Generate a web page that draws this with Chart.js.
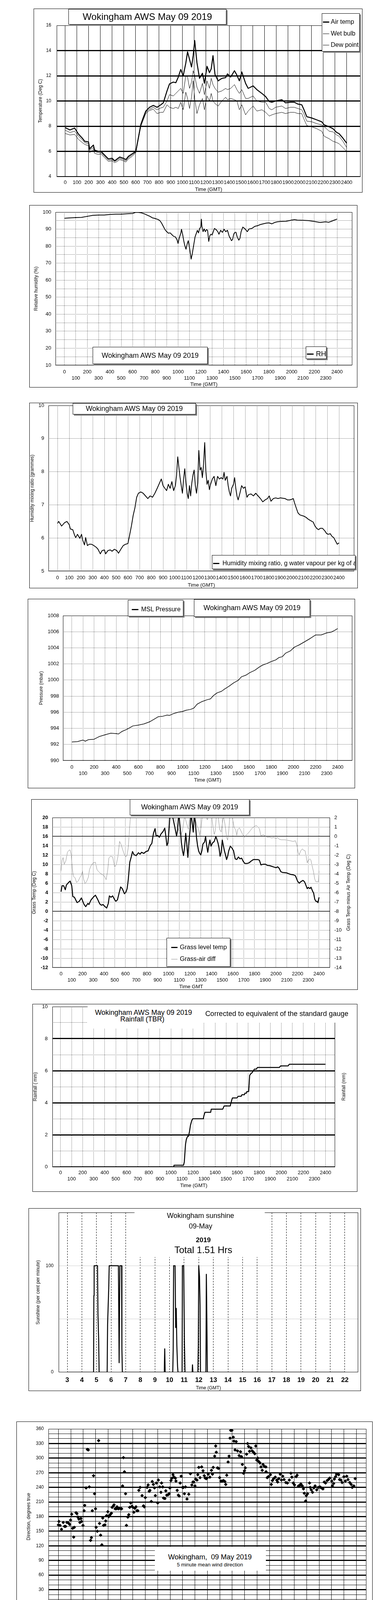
<!DOCTYPE html>
<html>
<head>
<meta charset="utf-8">
<script src="https://cdn.jsdelivr.net/npm/chart.js@4.4.1/dist/chart.umd.min.js"></script>
<style>
  body { margin: 0; background: #fff; font-family: "Liberation Sans", Arial, sans-serif; color: #000; }
  #page { position: relative; width: 1000px; height: 5000px; overflow: hidden; }
  .frame { position: absolute; border: 1px solid #000; box-sizing: border-box; }
  .frame canvas { position: absolute; left: -1px; top: -1px; }
  .box { position: absolute; background: #fff; border: 1px solid #000; box-shadow: 3px 3px 0 #7f7f7f; box-sizing: border-box; overflow: hidden; z-index: 5; }
  .cover { position: absolute; background: #fff; z-index: 5; }
  .tx { position: absolute; white-space: pre; z-index: 6; }
  .ctr { position: absolute; white-space: pre; text-align: center; z-index: 6; }
  .ln { position: absolute; background: #000; }
  .dia { position: absolute; width: 7px; height: 7px; background: #c8c8c8; border: 1px solid #333; transform: rotate(45deg); }
</style>
</head>
<body>
<div id="page">
  <!-- 1: temperatures -->
  <div class="box" style="left:175px;top:23px;width:404px;height:40px;font-size:24px;line-height:38px;text-align:center">Wokingham AWS May 09 2019</div>
  <div class="box" style="left:823px;top:34px;width:97px;height:98px">
    <div class="ln" style="left:2px;top:20px;width:16px;height:3px"></div>
    <div class="tx" style="left:22px;top:11px;font-size:16px;line-height:20px">Air temp</div>
    <div class="ln" style="left:2px;top:51px;width:16px;height:1px"></div>
    <div class="tx" style="left:22px;top:41px;font-size:16px;line-height:20px">Wet bulb</div>
    <div class="ln" style="left:2px;top:80px;width:16px;height:1px"></div>
    <div class="tx" style="left:22px;top:70px;font-size:16px;line-height:20px">Dew point</div>
  </div>

  <!-- 2: relative humidity -->
  <div class="box" style="left:237px;top:888px;width:294px;height:44px;font-size:18px;line-height:42px;text-align:center">Wokingham AWS May 09 2019</div>
  <div class="box" style="left:782px;top:887px;width:53px;height:32px">
    <div class="ln" style="left:2px;top:17px;width:17px;height:3px"></div>
    <div class="tx" style="left:25px;top:7px;font-size:18px;line-height:22px">RH</div>
  </div>

  <!-- 3: mixing ratio -->
  <div class="box" style="left:186px;top:1032px;width:315px;height:29px;font-size:18px;line-height:27px;text-align:center">Wokingham AWS May 09 2019</div>
  <div class="box" style="left:542px;top:1421px;width:367px;height:36px">
    <div class="ln" style="left:2px;top:19px;width:16px;height:3px"></div>
    <div class="tx" style="left:26px;top:9px;font-size:16px;line-height:22px">Humidity mixing ratio, g water vapour per kg of air</div>
  </div>

  <!-- 4: pressure -->
  <div class="box" style="left:327px;top:1536px;width:142px;height:42px">
    <div class="ln" style="left:9px;top:22px;width:17px;height:3px"></div>
    <div class="tx" style="left:33px;top:12px;font-size:16px;line-height:22px">MSL Pressure</div>
  </div>
  <div class="box" style="left:496px;top:1534px;width:297px;height:45px;font-size:18px;line-height:43px;text-align:center">Wokingham AWS May 09 2019</div>

  <!-- 5: grass temperature -->
  <div class="box" style="left:332px;top:2046px;width:306px;height:41px;font-size:18px;line-height:39px;text-align:center">Wokingham AWS May 09 2019</div>
  <div class="box" style="left:426px;top:2401px;width:163px;height:74px">
    <div class="ln" style="left:11px;top:22px;width:16px;height:3px"></div>
    <div class="tx" style="left:33px;top:12px;font-size:16px;line-height:22px">Grass level temp</div>
    <div class="ln" style="left:11px;top:53px;width:16px;height:1px;background:#8c8c8c"></div>
    <div class="tx" style="left:33px;top:42px;font-size:16px;line-height:22px">Grass-air diff</div>
  </div>

  <!-- 6: rainfall -->
  <div class="cover" style="left:224px;top:2576px;width:284px;height:56px">
    <div class="ctr" style="left:0;width:286px;top:6px;font-size:18px;line-height:20px">Wokingham AWS May 09 2019</div>
    <div class="ctr" style="left:0;width:280px;top:23px;font-size:18px;line-height:20px">Rainfall (TBR)</div>
  </div>
  <div class="cover" style="left:508px;top:2576px;width:351px;height:42px">
    <div class="ctr" style="left:0;width:400px;top:8px;font-size:18px;line-height:22px">Corrected to equivalent of the standard gauge</div>
  </div>

  <!-- 7: sunshine -->
  <div class="cover" style="left:344px;top:3103px;width:333px;height:115px">
    <div class="ctr" style="left:0;width:338px;top:-1px;font-size:18px;line-height:20px">Wokingham sunshine</div>
    <div class="ctr" style="left:0;width:338px;top:26px;font-size:18px;line-height:20px">09-May</div>
    <div class="ctr" style="left:0;width:352px;top:62px;font-size:17px;line-height:20px;font-weight:bold">2019</div>
    <div class="ctr" style="left:0;width:352px;top:83px;font-size:24px;line-height:28px">Total 1.51 Hrs</div>
  </div>

  <!-- 8: wind direction -->
  <div class="cover" style="left:396px;top:3960px;width:284px;height:61px">
    <div class="ctr" style="left:0;width:282px;top:15px;font-size:18px;line-height:22px">Wokingham,  09 May 2019</div>
    <div class="ctr" style="left:0;width:282px;top:38px;font-size:13px;line-height:16px">5 minute mean wind direction</div>
  </div>

  <!-- 9: wind speed -->
  <div class="ctr" style="left:115px;width:300px;top:4196px;font-size:18px;line-height:24px">Wokingham,  09 May 2019</div>
  <div class="ctr" style="left:422px;width:300px;top:4191px;font-size:13px;line-height:16px">Wind speed, 10 min mean / max gust</div>
  <div class="ctr" style="left:422px;width:300px;top:4209px;font-size:13px;line-height:16px">Speeds below 4 kt shown at x10 scale</div>
  <div class="box" style="left:725px;top:4193px;width:219px;height:25px">
    <div class="ln" style="left:31px;top:12px;width:11px;height:3px"></div>
    <div class="tx" style="left:50px;top:5px;font-size:11px;line-height:14px">Speed x 1</div>
    <div class="dia" style="left:118px;top:8px"></div>
    <div class="tx" style="left:136px;top:5px;font-size:11px;line-height:14px">Speed / 10</div>
  </div>
</div>

<script>
// ---------- tick values / labels ----------
const hhmmTicks = [0, 100, 200, 300, 400, 500, 600, 700, 800, 900, 1000, 1100, 1200,
  1300, 1400, 1500, 1600, 1700, 1800, 1900, 2000, 2100, 2200, 2300, 2400];
const hourTicks = [0, 1, 2, 3, 4, 5, 6, 7, 8, 9, 10, 11, 12, 13, 14, 15, 16, 17, 18, 19, 20, 21, 22, 23, 24];
const sunHourTicks = [3, 4, 5, 6, 7, 8, 9, 10, 11, 12, 13, 14, 15, 16, 17, 18, 19, 20, 21, 22];
const clockLabels = ['00:00', '01:00', '02:00', '03:00', '04:00', '05:00', '06:00', '07:00', '08:00',
  '09:00', '10:00', '11:00', '12:00', '13:00', '14:00', '15:00', '16:00', '17:00', '18:00',
  '19:00', '20:00', '21:00', '22:00', '23:00', ''];
const tempTicks = [4, 6, 8, 10, 12, 14, 16];
const rhTicks = [10, 15, 20, 25, 30, 35, 40, 45, 50, 55, 60, 65, 70, 75, 80, 85, 90, 95, 100];
const mixTicks = [5, 6, 7, 8, 9, 10];
const pressTicks = [990, 992, 994, 996, 998, 1000, 1002, 1004, 1006, 1008];
const grassTicks = [-12, -10, -8, -6, -4, -2, 0, 2, 4, 6, 8, 10, 12, 14, 16, 18, 20];
const diffTicks = [-14, -13, -12, -11, -10, -9, -8, -7, -6, -5, -4, -3, -2, -1, 0, 1, 2];
const rainTicks = [0, 1, 2, 3, 4, 5, 6, 7, 8, 9, 10];
const sunTicks = [0, 50, 100];
const dirTicks = [0, 10, 20, 30, 40, 50, 60, 70, 80, 90, 100, 110, 120, 130, 140, 150, 160, 170, 180,
  190, 200, 210, 220, 230, 240, 250, 260, 270, 280, 290, 300, 310, 320, 330, 340, 350, 360];
const speedTicks = [0, 5, 10, 15, 20, 25, 30, 35, 40, 45, 50];

// ---------- 1: temperatures (deg C) ----------
const tempTimes = [0, 40, 80, 113, 145, 166, 198, 208, 240, 250,
  283, 304, 336, 368, 400, 421, 443, 464, 496, 517,
  538, 570, 602, 623, 645, 666, 687, 719, 751, 783,
  815, 836, 868, 889, 921, 943, 964, 985, 1006, 1028,
  1043, 1060, 1077, 1091, 1104, 1123, 1145, 1170, 1187, 1209,
  1230, 1245, 1260, 1277, 1304, 1336, 1368, 1383, 1411, 1443,
  1464, 1485, 1506, 1538, 1560, 1602, 1634, 1677, 1709, 1740,
  1762, 1794, 1847, 1879, 1921, 1953, 1985, 2017, 2034, 2060,
  2102, 2145, 2187, 2209, 2251, 2283, 2315, 2336, 2368, 2400];
const airTemp = [7.88, 7.7, 7.85, 7.37, 7.05, 6.8, 6.75, 6.2, 6.5, 6.1,
  6.0, 6.0, 5.7, 5.4, 5.45, 5.25, 5.4, 5.55, 5.45, 5.35,
  5.6, 5.8, 6.0, 7.05, 8.15, 8.7, 9.2, 9.5, 9.65, 9.5,
  9.7, 9.85, 10.8, 11.35, 11.5, 11.45, 11.9, 12.5, 12.0, 13.0,
  13.9, 13.3, 12.7, 13.6, 14.8, 13.05, 11.8, 12.2, 11.4, 12.75,
  12.25, 12.55, 13.6, 12.1, 11.6, 11.8, 11.85, 12.15, 11.9, 12.4,
  12.05, 11.6, 12.3, 11.4, 11.0, 11.2, 10.9, 10.6, 10.35, 9.95,
  9.9, 10.0, 10.1, 9.85, 9.9, 9.9, 9.75, 9.7, 9.35, 8.75,
  8.65, 8.5, 8.35, 8.1, 7.95, 7.8, 7.5, 7.4, 7.05, 6.65];
const wetBulb = [7.68, 7.5, 7.6, 7.2, 6.9, 6.7, 6.6, 6.1, 6.3, 6.0,
  5.9, 5.9, 5.6, 5.3, 5.35, 5.2, 5.3, 5.45, 5.35, 5.25,
  5.5, 5.7, 5.95, 7.0, 8.1, 8.6, 9.1, 9.35, 9.5, 9.3,
  9.45, 9.5, 10.0, 10.5, 10.4, 10.6, 10.8, 11.0, 10.6, 12.0,
  11.9, 11.0, 11.5, 12.4, 12.0, 11.1, 10.6, 11.4, 10.5, 11.6,
  11.0, 11.8, 11.3, 11.0, 10.7, 10.8, 11.0, 10.9, 11.0, 11.3,
  10.9, 10.6, 10.9, 10.2, 10.2, 10.4, 10.0, 9.9, 9.9, 9.4,
  9.3, 9.5, 9.6, 9.4, 9.5, 9.5, 9.4, 9.3, 9.0, 8.4,
  8.35, 8.2, 8.1, 7.95, 7.6, 7.55, 7.3, 7.2, 6.8, 6.3];
const dewPoint = [7.42, 7.3, 7.35, 6.95, 6.7, 6.55, 6.45, 5.9, 6.15, 5.85,
  5.75, 5.8, 5.5, 5.2, 5.25, 5.1, 5.2, 5.35, 5.25, 5.15,
  5.4, 5.6, 5.9, 6.95, 8.0, 8.5, 9.0, 9.25, 9.35, 9.0,
  9.1, 9.1, 9.7, 9.5, 9.4, 9.5, 9.4, 9.9, 9.3, 10.7,
  10.2, 9.4, 10.3, 11.6, 10.2, 9.0, 9.7, 10.2, 9.3, 10.4,
  10.0, 10.6, 10.0, 9.8, 9.6, 10.0, 10.3, 10.1, 10.2, 10.1,
  10.0, 9.3, 9.7, 8.9, 9.2, 9.6, 9.2, 9.3, 9.1, 8.8,
  8.9, 9.0, 9.1, 9.0, 9.1, 9.1, 9.0, 9.0, 8.6, 8.05,
  7.95, 7.8, 7.6, 7.2, 7.0, 6.8, 6.7, 6.6, 6.3, 6.0];

// ---------- 2: relative humidity (%) ----------
const rhTimes = [0, 50, 100, 150, 200, 250, 300, 350, 400, 450,
  500, 550, 600, 625, 650, 675, 700, 725, 750, 775,
  800, 825, 840, 855, 870, 885, 900, 915, 930, 945,
  960, 975, 990, 1000, 1010, 1025, 1030, 1040, 1050, 1060,
  1070, 1080, 1090, 1100, 1110, 1115, 1125, 1140, 1150, 1170,
  1180, 1190, 1200, 1205, 1210, 1220, 1230, 1240, 1250, 1260,
  1270, 1280, 1290, 1300, 1310, 1320, 1335, 1350, 1360, 1375,
  1390, 1405, 1420, 1435, 1450, 1460, 1470, 1480, 1490, 1500,
  1510, 1520, 1535, 1545, 1555, 1570, 1585, 1595, 1610, 1625,
  1650, 1675, 1700, 1725, 1750, 1775, 1800, 1825, 1850, 1875,
  1900, 1950, 2000, 2025, 2050, 2100, 2150, 2200, 2250, 2300,
  2325, 2350, 2375, 2400];
const rhValues = [96.4, 96.6, 96.8, 96.9, 97.5, 98.1, 98.3, 98.3, 98.6, 98.8,
  98.8, 99.0, 99.2, 99.8, 99.8, 99.6, 99.1, 98.3, 97.6, 96.6,
  96.2, 95.6, 95.0, 93.5, 91.6, 89.7, 88.5, 87.6, 87.8, 86.8,
  85.8, 85.5, 83.9, 81.6, 84.7, 87.8, 89.9, 87.0, 83.2, 80.1,
  78.2, 81.2, 83.2, 79.4, 74.7, 72.4, 75.5, 81.6, 85.5, 89.3,
  87.8, 90.4, 91.2, 95.8, 91.6, 88.5, 90.1, 88.5, 89.7, 89.3,
  82.8, 86.2, 87.0, 86.6, 88.5, 90.4, 89.7, 88.5, 87.0, 89.3,
  88.1, 89.9, 88.5, 89.3, 85.8, 84.7, 83.2, 83.9, 87.0, 88.1,
  88.1, 85.5, 83.5, 84.7, 88.5, 91.2, 90.4, 89.7, 88.5, 90.1,
  90.4, 91.6, 92.0, 92.7, 93.1, 93.5, 93.7, 93.1, 93.9, 94.3,
  94.5, 94.6, 95.3, 95.6, 95.3, 95.2, 95.0, 94.5, 93.9, 94.3,
  94.0, 94.6, 95.3, 95.9];

// ---------- 3: humidity mixing ratio (g/kg) ----------
const mixTimes = [0, 10, 35, 60, 80, 100, 110, 130, 145, 155,
  170, 190, 205, 215, 230, 240, 255, 270, 290, 310,
  330, 345, 365, 380, 400, 410, 430, 450, 465, 485,
  505, 520, 540, 560, 580, 600, 615, 630, 645, 660,
  675, 690, 710, 730, 750, 770, 790, 810, 830, 850,
  870, 885, 900, 915, 930, 945, 960, 975, 990, 1005,
  1015, 1025, 1035, 1045, 1055, 1065, 1075, 1085, 1095, 1105,
  1115, 1125, 1135, 1145, 1155, 1165, 1175, 1185, 1195, 1205,
  1215, 1225, 1235, 1245, 1255, 1265, 1275, 1285, 1295, 1305,
  1320, 1335, 1350, 1365, 1380, 1395, 1410, 1420, 1430, 1445,
  1455, 1465, 1475, 1485, 1500, 1510, 1520, 1530, 1540, 1555,
  1570, 1585, 1600, 1615, 1630, 1650, 1670, 1690, 1710, 1730,
  1750, 1770, 1790, 1805, 1820, 1840, 1860, 1880, 1900, 1920,
  1940, 1960, 1980, 2000, 2010, 2020, 2035, 2050, 2065, 2080,
  2100, 2120, 2140, 2160, 2180, 2195, 2210, 2225, 2240, 2260,
  2280, 2295, 2310, 2325, 2340, 2355, 2370, 2385, 2400];
const mixValues = [6.44, 6.50, 6.36, 6.46, 6.50, 6.40, 6.27, 6.25, 6.09, 6.01,
  6.11, 5.99, 6.11, 5.93, 5.79, 6.01, 5.77, 5.81, 5.81, 5.77,
  5.72, 5.66, 5.52, 5.62, 5.64, 5.52, 5.62, 5.64, 5.60, 5.66,
  5.62, 5.54, 5.66, 5.77, 5.81, 5.83, 6.09, 6.36, 6.68, 6.91,
  7.23, 7.35, 7.39, 7.35, 7.27, 7.19, 7.27, 7.23, 7.35, 7.50,
  7.66, 7.78, 7.58, 7.50, 7.43, 7.62, 7.50, 7.70, 7.43, 7.58,
  7.90, 8.45, 8.13, 7.82, 7.58, 7.35, 7.78, 8.09, 7.66, 7.35,
  7.19, 7.58, 7.27, 7.66, 7.90, 8.05, 7.58, 7.35, 7.66, 8.64,
  8.05, 8.13, 7.82, 8.21, 8.88, 8.01, 7.62, 7.74, 7.46, 7.62,
  7.78, 7.86, 7.58, 7.86, 7.78, 7.82, 7.78, 7.98, 7.74, 7.86,
  7.58, 7.39, 7.27, 7.50, 7.62, 7.82, 7.50, 7.27, 7.15, 7.35,
  7.58, 7.50, 7.54, 7.23, 7.31, 7.33, 7.27, 7.35, 7.27, 7.19,
  7.09, 7.15, 7.19, 7.27, 7.11, 7.19, 7.21, 7.19, 7.21, 7.20,
  7.19, 7.15, 7.15, 7.17, 7.19, 7.07, 6.91, 6.76, 6.70, 6.68,
  6.66, 6.62, 6.56, 6.52, 6.48, 6.36, 6.29, 6.25, 6.29, 6.29,
  6.21, 6.13, 6.11, 6.13, 6.05, 6.01, 5.91, 5.81, 5.85];

// ---------- 4: MSL pressure (mbar) ----------
const pressTimes = [0, 50, 100, 120, 150, 200, 250, 300, 350, 400,
  420, 450, 500, 550, 600, 650, 700, 750, 780, 820,
  860, 880, 920, 960, 1000, 1030, 1070, 1100, 1130, 1170,
  1220, 1250, 1280, 1310, 1350, 1380, 1420, 1460, 1500, 1530,
  1570, 1610, 1650, 1690, 1720, 1760, 1800, 1840, 1870, 1900,
  1930, 1970, 2010, 2050, 2100, 2150, 2200, 2250, 2300, 2340,
  2370, 2400];
const pressValues = [992.3, 992.35, 992.55, 992.4, 992.6, 992.65, 993.0, 993.2, 993.4, 993.35,
  993.3, 993.6, 993.9, 994.3, 994.4, 994.55, 994.8, 995.2, 995.45, 995.5,
  995.65, 995.6, 995.85, 996.0, 996.1, 996.25, 996.35, 996.5, 997.0, 997.3,
  997.55, 997.65, 998.1, 998.4, 998.6, 998.9, 999.25, 999.65, 999.95, 1000.4,
  1000.6, 1000.95, 1001.2, 1001.6, 1001.85, 1002.05, 1002.3, 1002.5, 1002.8, 1002.9,
  1003.35, 1003.6, 1004.1, 1004.35, 1004.75, 1005.15, 1005.6, 1005.6, 1005.85, 1005.95,
  1006.15, 1006.4];

// ---------- 5: grass temperature (left) and grass minus air (right) ----------
const grassTimes = [0, 10, 25, 40, 50, 70, 85, 100, 110, 125,
  140, 150, 170, 190, 200, 215, 230, 250, 260, 280,
  300, 320, 340, 360, 375, 390, 410, 425, 440, 450,
  465, 480, 500, 510, 525, 540, 555, 570, 590, 605,
  615, 625, 640, 655, 665, 680, 700, 720, 735, 750,
  770, 790, 810, 830, 845, 860, 875, 885, 900, 915,
  930, 950, 965, 975, 985, 995, 1005, 1015, 1030, 1045,
  1060, 1075, 1085, 1095, 1110, 1120, 1130, 1140, 1150, 1160,
  1170, 1180, 1190, 1200, 1210, 1220, 1230, 1240, 1250, 1260,
  1270, 1280, 1290, 1300, 1310, 1320, 1335, 1345, 1355, 1365,
  1375, 1385, 1395, 1410, 1425, 1440, 1450, 1460, 1470, 1480,
  1490, 1500, 1510, 1520, 1530, 1540, 1550, 1560, 1575, 1590,
  1605, 1620, 1635, 1650, 1665, 1680, 1695, 1710, 1730, 1750,
  1770, 1790, 1810, 1830, 1845, 1860, 1880, 1900, 1920, 1940,
  1960, 1980, 2000, 2015, 2030, 2045, 2060, 2080, 2100, 2120,
  2140, 2160, 2180, 2190, 2200, 2215, 2230, 2250, 2265, 2280,
  2290, 2300, 2315, 2325, 2340, 2350, 2360, 2370, 2380, 2390,
  2400];
const grassTemp = [4.16, 5.45, 5.45, 4.6, 5.6, 6.15, 6.45, 5.45, 3.15, 3.0,
  2.3, 1.85, 2.15, 2.85, 2.3, 1.45, 1.0, 1.7, 1.45, 2.45,
  3.0, 3.45, 2.6, 1.6, 1.3, 1.45, 1.0, 0.7, 1.7, 3.3,
  3.0, 3.3, 2.45, 2.15, 2.45, 3.85, 5.2, 4.85, 3.75, 4.15,
  4.85, 6.6, 10.5, 11.75, 12.75, 12.05, 11.9, 12.5, 12.2, 12.6,
  12.35, 12.75, 12.9, 14.05, 14.5, 16.65, 17.65, 16.05, 16.2, 15.8,
  16.5, 17.05, 17.75, 16.05, 14.05, 14.6, 17.5, 21, 21, 19.5,
  17.8, 16.05, 17.5, 21, 17.5, 14.6, 12.9, 11.9, 13.8, 16.65,
  14.35, 11.5, 14.9, 17.2, 21, 18.9, 16.9, 20.5, 18.9, 15.8,
  14.05, 12.9, 12.35, 12.05, 12.9, 14.35, 14.8, 15.95, 14.05, 12.6,
  14.05, 15.2, 13.9, 14.6, 14.9, 15.95, 15.35, 14.6, 13.5, 11.75,
  12.6, 15.2, 14.05, 12.9, 12.05, 11.05, 11.75, 12.9, 13.9, 13.5,
  12.9, 11.2, 11.05, 11.6, 11.2, 11.35, 10.65, 10.2, 10.2, 10.35,
  10.75, 11.05, 11.05, 11.05, 10.9, 9.9, 10.05, 10.05, 9.8, 9.75,
  9.6, 9.45, 9.3, 9.5, 9.15, 8.45, 8.3, 8.25, 8.2, 8.0,
  7.85, 7.8, 7.6, 7.05, 6.45, 6.0, 6.3, 6.6, 6.3, 5.45,
  4.85, 5.1, 4.85, 5.15, 4.3, 3.85, 2.6, 2.15, 2.15, 1.85,
  3.0];
const diffTimes = [0, 10, 20, 30, 45, 60, 75, 85, 95, 105,
  115, 130, 145, 160, 175, 190, 200, 210, 225, 240,
  255, 265, 280, 300, 320, 335, 350, 370, 390, 405,
  420, 435, 445, 460, 480, 500, 515, 530, 545, 560,
  575, 590, 605, 615, 625, 635, 645, 700, 800, 900,
  960, 1000, 1010, 1050, 1100, 1115, 1130, 1150, 1170, 1185,
  1200, 1240, 1260, 1280, 1290, 1300, 1315, 1345, 1360, 1375,
  1400, 1410, 1425, 1435, 1445, 1460, 1475, 1490, 1500, 1510,
  1525, 1540, 1550, 1560, 1570, 1590, 1600, 1610, 1625, 1635,
  1645, 1660, 1675, 1690, 1705, 1720, 1740, 1760, 1780, 1800,
  1815, 1830, 1845, 1860, 1880, 1900, 1920, 1940, 1960, 1980,
  2000, 2015, 2030, 2050, 2080, 2100, 2130, 2160, 2180, 2195,
  2205, 2215, 2230, 2245, 2255, 2270, 2280, 2290, 2300, 2315,
  2325, 2335, 2350, 2360, 2370, 2385, 2395, 2400];
const grassAirDiff = [-3.7, -2.55, -2.26, -2.98, -2.62, -1.69, -1.47, -1.47, -1.97, -3.41,
  -4.27, -4.41, -4.92, -4.77, -4.41, -4.13, -3.7, -4.56, -5.06, -4.77,
  -4.34, -3.55, -3.12, -2.83, -2.76, -3.55, -3.77, -3.98, -4.13, -4.27,
  -4.63, -3.55, -2.33, -2.12, -2.19, -3.27, -2.98, -2.12, -0.54, -0.9,
  -1.47, -1.97, -2.19, -1.97, -1.26, 0.32, 2.0, 3, 3, 3,
  3, 2.4, 1.9, 2.2, 0.46, 0.1, 0.6, 2.2, 1.3, 0.75,
  2.2, 2.5, 1.3, 0.75, 0.1, 0.75, 2.2, 2.4, 1.75, 2.2,
  2.4, 1.3, 0.2, 0.6, 2.2, 2.4, 0.75, 0.46, 1.3, 2.2,
  1.3, -0.11, -0.4, 0.54, 2.1, 2.2, 1.6, 0.97, 0.68, 0.1,
  0.75, 0.9, 0.54, 0.2, -0.11, 0.1, 0.32, 0.6, 0.9, 1.04,
  1.18, 1.0, 0.82, 0.03, 0.18, 0.03, -0.11, -0.08, -0.18, -0.11,
  -0.25, -0.11, -0.32, -0.37, -0.37, -0.4, -0.47, -0.54, -0.47, -0.97,
  -1.69, -1.97, -1.54, -1.33, -1.47, -1.54, -2.12, -2.83, -2.55, -2.4,
  -2.55, -3.12, -3.84, -4.56, -4.84, -4.84, -4.84, -3.7];

// ---------- 6: accumulated rainfall (mm) ----------
const rainTimes = [0, 1026, 1028, 1114, 1121, 1128, 1132, 1139, 1150, 1159,
  1168, 1177, 1189, 1198, 1293, 1299, 1308, 1360, 1365, 1469,
  1482, 1537, 1548, 1557, 1598, 1609, 1636, 1643, 1666, 1670,
  1684, 1688, 1704, 1713, 1722, 1738, 1756, 1774, 1783, 1982,
  1993, 2061, 2072, 2400];
const rainTotal = [0, 0, 0.1, 0.1, 0.3, 1.0, 1.4, 1.7, 1.9, 1.9,
  2.2, 2.6, 2.9, 3.0, 3.0, 3.2, 3.4, 3.4, 3.6, 3.6,
  3.8, 3.8, 4.1, 4.3, 4.3, 4.4, 4.4, 4.5, 4.5, 4.6,
  4.6, 4.7, 4.7, 5.7, 5.8, 5.9, 6.1, 6.1, 6.2, 6.2,
  6.3, 6.3, 6.4, 6.4];

// ---------- 7: sunshine (per cent per minute) ----------
const sunHours = [3, 4.80, 4.82, 4.84, 5.07, 5.10, 5.15, 5.18, 5.73, 5.76,
  5.84, 5.87, 6.50, 6.55, 6.60, 6.72, 6.74, 6.77, 9.64, 9.67,
  9.70, 10.22, 10.25, 10.28, 10.38, 10.42, 10.46, 10.50, 10.55, 10.58,
  10.86, 10.88, 10.97, 11.02, 11.06, 11.55, 11.57, 11.60, 11.94, 11.97,
  12.00, 12.05, 12.09, 12.12, 12.49, 12.52, 12.55, 12.59, 22];
const sunValues = [0, 0, 72, 100, 100, 55, 30, 0, 0, 45,
  80, 100, 100, 9, 100, 100, 22, 0, 0, 22,
  0, 0, 21, 100, 100, 42, 60, 25, 5, 0,
  0, 100, 100, 27, 0, 0, 7, 0, 0, 25,
  100, 90, 63, 0, 0, 92, 55, 0, 0];

// ---------- 8: 5 minute mean wind direction (degrees) ----------
const dirHours = [0.00, 0.04, 0.13, 0.25, 0.39, 0.49, 0.58, 0.68, 0.81, 0.91,
  0.98, 1.07, 1.15, 1.23, 1.28, 1.42, 1.49, 1.57, 1.65, 1.73,
  1.81, 1.86, 1.98, 2.07, 2.12, 2.23, 2.33, 2.41, 2.49, 2.59,
  2.66, 2.73, 2.83, 2.91, 2.99, 3.04, 3.14, 3.24, 3.31, 3.40,
  3.50, 3.57, 3.64, 3.75, 3.81, 3.88, 3.98, 4.06, 4.12, 4.20,
  4.27, 4.33, 4.40, 4.48, 4.57, 4.66, 4.72, 4.82, 4.91, 5.03,
  5.09, 5.17, 5.24, 5.32, 5.41, 5.48, 5.59, 5.67, 5.74, 5.83,
  5.92, 6.01, 6.08, 6.16, 6.25, 6.32, 6.40, 6.48, 6.58, 6.74,
  6.85, 6.92, 7.00, 7.14, 7.23, 7.32, 7.37, 7.48, 7.56, 7.65,
  7.74, 7.81, 7.89, 8.00, 8.05, 8.16, 8.26, 8.31, 8.40, 8.47,
  8.58, 8.65, 8.73, 8.84, 8.92, 8.98, 9.07, 9.15, 9.23, 9.31,
  9.42, 9.47, 9.57, 9.66, 9.73, 9.81, 9.89, 10.00, 10.07, 10.15,
  10.24, 10.36, 10.50, 10.63, 10.75, 10.84, 10.89, 11.00, 11.05, 11.16,
  11.23, 11.31, 11.41, 11.54, 11.65, 11.75, 11.83, 11.91, 11.97, 12.07,
  12.20, 12.33, 12.41, 12.47, 12.59, 12.67, 12.72, 12.81, 12.91, 12.99,
  13.09, 13.20, 13.30, 13.41, 13.48, 13.56, 13.67, 13.75, 13.83, 13.88,
  13.98, 14.09, 14.14, 14.23, 14.32, 14.43, 14.56, 14.67, 14.75, 14.82,
  14.91, 14.99, 15.06, 15.16, 15.24, 15.32, 15.40, 15.51, 15.61, 15.72,
  15.82, 15.90, 15.98, 16.06, 16.14, 16.24, 16.32, 16.42, 16.48, 16.59,
  16.71, 16.73, 16.82, 16.92, 17.08, 17.15, 17.24, 17.34, 17.47, 17.59,
  17.66, 17.76, 17.87, 17.97, 18.07, 18.18, 18.32, 18.45, 18.60, 18.73,
  18.81, 18.92, 19.02, 19.15, 19.23, 19.34, 19.44, 19.53, 19.65, 19.74,
  19.81, 19.92, 19.97, 20.07, 20.23, 20.28, 20.37, 20.47, 20.58, 20.68,
  20.81, 20.93, 21.07, 21.18, 21.31, 21.42, 21.52, 21.65, 21.75, 21.86,
  22.02, 22.07, 22.17, 22.23, 22.33, 22.41, 22.58, 22.65, 22.76, 22.86,
  23.00, 23.12, 23.23, 23.33, 23.47, 23.59, 23.67, 23.80, 23.91];
const dirDegrees = [163, 170, 162, 154, 168, 160, 160, 168, 167, 164,
  173, 185, 156, 138, 158, 188, 186, 179, 175, 168,
  176, 170, 162, 192, 203, 239, 318, 317, 241, 131,
  137, 192, 264, 227, 196, 158, 150, 336, 166, 142,
  122, 177, 162, 163, 171, 182, 190, 180, 182, 185,
  187, 199, 201, 204, 196, 196, 200, 196, 197, 196,
  196, 243, 301, 272, 227, 162, 179, 184, 199, 208,
  201, 199, 189, 197, 200, 192, 192, 234, 240, 223,
  202, 200, 219, 240, 245, 232, 234, 211, 252, 246,
  239, 223, 249, 208, 255, 241, 230, 249, 241, 218,
  217, 233, 224, 225, 227, 239, 254, 259, 266, 261,
  259, 253, 234, 224, 222, 249, 263, 240, 240, 227,
  241, 216, 226, 268, 245, 251, 251, 243, 257, 255,
  266, 281, 260, 282, 274, 264, 259, 258, 259, 267,
  261, 275, 267, 281, 304, 325, 312, 280, 279, 260,
  253, 253, 254, 252, 246, 265, 292, 304, 341, 357,
  357, 343, 335, 317, 334, 315, 305, 313, 303, 287,
  269, 274, 280, 308, 330, 324, 314, 321, 315, 312,
  309, 325, 296, 300, 293, 290, 282, 275, 287, 283,
  282, 272, 260, 262, 266, 246, 254, 258, 261, 255,
  251, 258, 267, 255, 263, 256, 250, 249, 255, 269,
  261, 249, 245, 262, 265, 243, 244, 247, 243, 237,
  228, 212, 223, 227, 249, 240, 235, 230, 239, 243,
  235, 240, 241, 239, 237, 251, 249, 254, 256, 259,
  253, 243, 248, 257, 262, 267, 266, 256, 255, 250,
  262, 253, 263, 256, 250, 246, 240, 243, 258];

// ---------- 9: wind speed (knots) ----------
const meanHours = [0.0, 0.16, 0.35, 0.55, 0.74, 0.88, 1.04, 1.23, 1.43, 1.72,
  2.01, 2.21, 2.44, 2.64, 2.89, 3.09, 3.34, 3.57, 3.87, 4.16,
  4.45, 4.75, 4.94, 5.14, 5.33, 5.57, 5.72, 6.02, 6.31, 6.60,
  6.80, 6.99, 7.29, 7.58, 7.87, 8.07, 8.16, 8.46, 8.75, 8.95,
  9.14, 9.43, 9.73, 10.02, 10.31, 10.61, 10.90, 11.09, 11.29, 11.48,
  11.68, 11.88, 12.07, 12.27, 12.52, 12.71, 12.95, 13.18, 13.44, 13.69,
  13.93, 14.22, 14.51, 14.80, 15.00, 15.20, 15.45, 15.68, 15.88, 16.17,
  16.46, 16.76, 17.01, 17.25, 17.54, 17.73, 18.03, 18.32, 18.61, 18.81,
  19.00, 19.30, 19.59, 19.88, 20.08, 20.33, 20.57, 20.86, 21.15, 21.45,
  21.74, 21.97, 22.23, 22.52, 22.71, 22.95, 23.20, 23.50, 23.69, 23.93];
const meanSpeed = [5.6, 4.5, 6.1, 6.7, 7.0, 6.1, 5.0, 2.3, 2.0, 2.5,
  3.4, 1.9, 1.5, 0.4, 0.8, 0.4, 0.9, 1.3, 2.2, 2.9,
  4.1, 4.9, 4.4, 2.0, 0.9, 0.7, 1.9, 2.0, 2.0, 2.3,
  1.9, 3.2, 3.2, 3.5, 3.3, 3.8, 2.3, 3.2, 3.5, 4.7,
  2.3, 3.2, 3.8, 4.4, 4.1, 4.4, 5.3, 6.1, 8.5, 6.4,
  5.0, 8.2, 6.7, 5.6, 5.3, 3.8, 5.8, 5.0, 4.1, 4.4,
  5.6, 5.3, 6.1, 5.0, 3.5, 5.0, 7.3, 6.4, 5.3, 5.6,
  5.0, 5.8, 5.6, 5.0, 6.1, 3.8, 4.1, 3.9, 3.2, 3.2,
  2.0, 2.5, 3.1, 2.9, 4.4, 7.0, 5.6, 5.3, 5.6, 5.8,
  5.3, 5.7, 4.9, 4.3, 2.9, 4.3, 4.4, 4.1, 2.6, 2.3];
const gustHours = [0.0, 0.1, 0.3, 0.5, 0.6, 0.75, 0.9, 1.05, 1.15, 1.25,
  1.4, 1.6, 1.8, 2.0, 2.15, 2.3, 2.45, 2.6, 2.75, 2.9,
  3.05, 3.2, 3.4, 3.6, 3.8, 4.0, 4.15, 4.3, 4.5, 4.6,
  4.75, 4.9, 5.05, 5.2, 5.35, 5.5, 5.65, 5.8, 5.95, 6.1,
  6.25, 6.4, 6.55, 6.7, 6.8, 6.95, 7.1, 7.25, 7.4, 7.55,
  7.7, 7.85, 7.95, 8.1, 8.2, 8.35, 8.5, 8.6, 8.7, 8.8,
  8.95, 9.05, 9.15, 9.3, 9.45, 9.55, 9.7, 9.8, 9.95, 10.1,
  10.25, 10.4, 10.55, 10.7, 10.85, 11.0, 11.1, 11.25, 11.35, 11.45,
  11.55, 11.65, 11.75, 11.85, 11.95, 12.05, 12.2, 12.35, 12.45, 12.6,
  12.75, 12.9, 13.0, 13.15, 13.3, 13.45, 13.6, 13.8, 13.9, 14.05,
  14.2, 14.32, 14.5, 14.65, 14.8, 14.95, 15.1, 15.25, 15.4, 15.5,
  15.6, 15.75, 15.9, 16.05, 16.2, 16.35, 16.5, 16.66, 16.8, 16.95,
  17.05, 17.2, 17.4, 17.5, 17.65, 17.8, 18.0, 18.15, 18.3, 18.45,
  18.6, 18.75, 18.9, 19.05, 19.2, 19.35, 19.5, 19.65, 19.8, 19.95,
  20.1, 20.21, 20.35, 20.45, 20.6, 20.75, 20.9, 21.05, 21.2, 21.35,
  21.5, 21.65, 21.8, 21.95, 22.1, 22.25, 22.4, 22.55, 22.7, 22.85,
  23.0, 23.15, 23.3, 23.45, 23.6, 23.75, 23.9];
const gustSpeed = [7.5, 4.5, 7.0, 6.5, 9.2, 7.5, 6.5, 5.2, 3.5, 2.2,
  3.5, 2.8, 4.0, 4.5, 3.0, 2.5, 1.8, 1.0, 1.5, 1.0,
  1.5, 1.0, 1.8, 2.2, 3.5, 4.0, 3.5, 5.0, 6.0, 6.8,
  5.5, 6.0, 4.0, 2.0, 1.0, 2.0, 3.0, 4.0, 2.5, 3.0,
  2.3, 3.5, 2.8, 4.0, 2.5, 5.5, 5.0, 4.5, 7.0, 5.0,
  6.5, 5.0, 8.5, 5.0, 3.0, 5.5, 7.0, 4.5, 10.5, 6.0,
  7.5, 5.5, 3.5, 5.0, 1.5, 6.5, 7.0, 5.5, 8.5, 6.5,
  7.5, 6.0, 9.0, 6.5, 10.0, 8.0, 13.0, 11.0, 15.0, 9.0,
  11.0, 7.0, 16.8, 9.5, 9.0, 10.0, 7.0, 9.5, 6.5, 8.5,
  4.5, 14.0, 7.5, 8.0, 6.0, 7.0, 5.5, 10.0, 6.5, 10.5,
  7.5, 11.5, 8.0, 10.0, 6.5, 6.0, 7.0, 13.2, 12.5, 8.0,
  9.5, 8.5, 6.5, 9.0, 10.0, 7.0, 8.5, 11.8, 8.0, 10.0,
  6.5, 8.0, 10.2, 7.0, 5.5, 6.5, 5.5, 5.0, 6.0, 4.5,
  4.0, 5.0, 3.0, 4.0, 3.0, 5.0, 3.5, 4.5, 5.0, 4.0,
  6.5, 12.2, 9.0, 8.0, 7.0, 6.0, 7.5, 8.5, 7.0, 8.5,
  7.0, 8.5, 7.5, 7.0, 6.0, 6.5, 5.5, 6.5, 7.5, 6.0,
  6.5, 5.5, 4.5, 4.0, 3.0, 2.5, 4.2];
// speeds below 4 kt, plotted at ten times their value
const slowHours = [
  1.09, 1.11, 1.13, 1.15, 1.17, 1.20,
  1.24, 1.27, 1.31, 1.35, 1.39, 1.43, 1.47, 1.51, 1.55, 1.60, 1.64, 1.69,
  1.73, 1.77, 1.81, 1.85, 1.89, 1.93, 1.97, 2.01, 2.05, 2.09,
  2.14, 2.17, 2.20, 2.23, 2.26, 2.29, 2.32, 2.35, 2.38, 2.41, 2.44, 2.48, 2.52, 2.56,
  2.58, 2.62, 2.66, 2.70, 2.74, 2.78, 2.82, 2.86, 2.90, 2.94, 2.98, 3.02, 3.06, 3.10, 3.14, 3.18, 3.22, 3.26, 3.30, 3.34, 3.37, 3.40,
  3.43, 3.47, 3.51, 3.55, 3.59, 3.63, 3.67, 3.71, 3.76, 3.80, 3.85, 3.90, 3.95,
  3.99, 4.02, 4.05, 4.08, 4.11, 4.14, 4.17, 4.21, 4.25, 4.29, 4.33,
  4.37, 4.43, 4.49, 4.55, 4.61, 4.67, 4.73,
  5.03, 5.05, 5.07, 5.09, 5.11, 5.13, 5.15, 5.17, 5.19, 5.21, 5.24, 5.27, 5.30, 5.33, 5.36, 5.39, 5.42, 5.45, 5.48, 5.51, 5.53, 5.56, 5.59, 5.63, 5.67,
  5.71, 5.76, 5.81, 5.86, 5.91, 5.96, 6.01, 6.06, 6.11, 6.16, 6.21, 6.26, 6.31, 6.36, 6.41, 6.46, 6.51, 6.56, 6.61, 6.64, 6.68,
  6.71, 6.75, 6.79, 6.83, 6.87, 6.91, 6.95, 7.00, 7.05, 7.10, 7.15,
  7.20, 7.25, 7.30, 7.35, 7.40, 7.45, 7.50, 7.55, 7.60, 7.65, 7.75, 7.85, 7.97, 8.02,
  8.08, 8.12, 8.16, 8.20, 8.24, 8.28, 8.32, 8.37, 8.42, 8.47, 8.52, 8.57, 8.62, 8.67, 8.72, 8.77, 8.82, 8.87, 8.92, 8.97,
  9.02, 9.06, 9.10, 9.14, 9.18, 9.22, 9.26, 9.30, 9.34, 9.38, 9.42, 9.46, 9.50, 9.54, 9.58, 9.62, 9.66, 9.70, 9.74, 9.78, 9.82, 9.86, 9.90, 9.94, 9.98, 10.02, 10.06, 10.2,
  12.57, 12.60, 12.63, 12.67, 12.72, 12.78,
  13.47, 13.55, 13.68,
  14.72, 14.76, 14.80, 14.84, 14.88, 14.92, 14.96, 15.02, 15.08,
  17.68, 17.72, 17.76, 17.80, 17.86, 17.92, 17.98, 18.04, 18.10, 18.16, 18.22, 18.28, 18.34, 18.40, 18.46, 18.52,
  18.72, 18.76, 18.80, 18.84, 18.88, 18.92, 18.96, 19.00, 19.04, 19.08, 19.12, 19.16, 19.20, 19.24, 19.28, 19.32, 19.36, 19.40, 19.44, 19.48, 19.52, 19.56, 19.60, 19.64, 19.68, 19.72, 19.76, 19.80, 19.86, 19.92, 19.98, 20.10,
  22.22, 22.27, 22.32, 22.37, 22.42, 22.47, 22.52, 22.57, 22.62, 22.67, 22.72, 22.77, 22.82, 22.88,
  23.43, 23.47, 23.51, 23.55, 23.59, 23.63, 23.67, 23.71, 23.75, 23.80, 23.85, 23.90, 23.95];
const slowSpeedX10 = [
  38.5, 34.3, 32.5, 30.2, 28, 25,
  22.5, 21, 20.5, 24.5, 23.5, 22, 21.5, 22.5, 23.5, 25, 27, 27.5,
  28, 29, 30.5, 32, 33.5, 34, 32.5, 31, 30, 28,
  24.5, 23, 22, 20, 19.5, 18.5, 17.5, 16.5, 15, 13, 12.5, 14, 16.5, 20,
  11.5, 8.5, 6.5, 5, 3.5, 6, 7, 9, 10.5, 12.5, 11, 9, 7.5, 6, 8, 9.5, 7.5, 6.5, 4, 2, 0.5, 4,
  8, 10, 11.5, 13, 14, 12.5, 10.5, 9.5, 15, 17.5, 19.5, 20.5, 22,
  24, 26, 28.5, 29, 27, 25.5, 24, 23, 22.5, 25, 27.5,
  29, 31, 32.5, 34, 35, 37, 38.5,
  38.5, 36, 33.5, 31, 27, 25.5, 23, 20.5, 19, 16, 13.5, 11.5, 10, 9.5, 9, 10, 8, 7, 6, 5.5, 12.5, 14.5, 16.5, 18, 20,
  21, 22, 23, 24.5, 26, 25, 23, 21.5, 20, 19.5, 21, 22.5, 24, 22, 20.5, 20, 21, 23, 24.5, 17.5, 16.5,
  17.5, 19, 20.5, 23.5, 26.5, 29, 31.5, 33.5, 35, 36, 34,
  28, 30, 31.5, 32.5, 33, 34, 35, 32, 30, 29, 36, 38, 40, 39,
  34.5, 31, 29, 27, 26, 24.5, 24, 26.5, 29.5, 33, 35.5, 37, 38.5, 36, 34.5, 32.5, 30.5, 28, 36.5, 39,
  34, 31, 29, 27, 25, 23, 22.5, 24, 26.5, 30, 33, 35, 37, 38.5, 36.5, 35, 32, 29.5, 26, 24.5, 23, 22.5, 35, 37, 38, 36, 38.5, 39.5,
  30.8, 31.2, 33.5, 36, 37.5, 38.5,
  38.5, 39.5, 39.5,
  39.5, 38, 37, 35.5, 34.5, 33, 32.5, 38, 39.5,
  39.5, 38.5, 37, 36, 38, 39.5, 36.5, 35.5, 36, 35, 34, 33, 32.5, 33.5, 35, 36,
  28, 26, 24, 22, 20.5, 19.5, 21, 23, 25, 27, 29, 27.5, 26, 24.5, 23, 21.5, 24, 27, 30, 32, 34, 35, 33, 31, 29, 28, 30, 32, 33.5, 35.5, 36.5, 39,
  39.5, 39, 38, 35, 32.5, 30.5, 29, 27.5, 28.5, 31, 34, 37, 38.5, 39.5,
  39.5, 37.5, 35.5, 33.5, 31.5, 30, 28, 26.5, 25, 24, 23, 22, 24.5];

// ---------- helpers ----------
Chart.defaults.font.family = '"Liberation Sans", Arial, sans-serif';
Chart.defaults.color = '#000';

const page = document.getElementById('page');
const FONT = '"Liberation Sans", Arial, sans-serif';
const DOTS = [1, 2];

function pts(xs, ys) {
  return xs.map((x, i) => ({x: x, y: ys[i]}));
}

function line(xs, ys, width, color, axis) {
  return {
    data: pts(xs, ys), showLine: true, pointRadius: 0, borderWidth: width,
    borderColor: color || '#000', backgroundColor: color || '#000',
    yAxisID: axis || 'y', borderJoinStyle: 'round'
  };
}

// draws the rectangle round the plot area
const plotFrame = {
  id: 'plotFrame',
  afterDatasetsDraw(chart) {
    const a = chart.chartArea, ctx = chart.ctx;
    ctx.save();
    ctx.strokeStyle = '#000';
    ctx.lineWidth = 1;
    ctx.strokeRect(Math.round(a.left) + 0.5, Math.round(a.top) + 0.5,
      Math.round(a.right - a.left) - 1, Math.round(a.bottom - a.top) - 1);
    ctx.restore();
  }
};

// right-hand axis title, reading bottom to top like the left one
const sideTitle = {
  id: 'sideTitle',
  afterDraw(chart, args, opts) {
    if (!opts || !opts.text) return;
    const a = chart.chartArea, ctx = chart.ctx;
    ctx.save();
    ctx.font = '12px ' + FONT;
    ctx.fillStyle = '#000';
    ctx.textAlign = 'center';
    ctx.textBaseline = 'middle';
    ctx.translate(opts.x, (a.top + a.bottom) / 2);
    ctx.rotate(-Math.PI / 2);
    ctx.fillText(opts.text, 0, 0);
    ctx.restore();
  }
};

function makeCanvas(f) {
  const div = document.createElement('div');
  div.className = 'frame';
  const w = f.r - f.l, h = f.b - f.t;
  div.style.left = f.l + 'px';
  div.style.top = f.t + 'px';
  div.style.width = w + 'px';
  div.style.height = h + 'px';
  const cv = document.createElement('canvas');
  cv.width = w;
  cv.height = h;
  cv.style.width = w + 'px';
  cv.style.height = h + 'px';
  div.appendChild(cv);
  page.appendChild(div);
  return cv;
}

function axis(o, fit) {
  return {
    type: 'linear', min: o.min, max: o.max, position: o.position,
    afterBuildTicks: s => { s.ticks = o.ticks.map(v => ({value: v})); },
    afterFit: fit,
    grid: {display: o.grid !== false, drawTicks: false, color: o.gridColor || '#000', lineWidth: o.gridWidth || 1},
    border: {display: false, dash: o.dash || []},
    ticks: {
      display: o.showTicks !== false, autoSkip: false, maxRotation: 0, minRotation: 0,
      padding: o.pad, color: '#000',
      font: {size: o.font || 13, weight: o.bold ? 'bold' : 'normal'},
      callback: o.label || (v => String(v))
    },
    title: {
      display: !!o.title, text: o.title, color: '#000',
      font: {size: o.titleSize || 12},
      padding: {top: o.titlePad || 0, bottom: o.titlePad || 0}
    }
  };
}

function makeChart(o) {
  const f = o.frame, p = o.plot;
  const cv = makeCanvas(f);
  const scales = {
    x: axis(o.x, s => { s.height = f.b - p.b; s.paddingLeft = 0; s.paddingRight = 0; }),
    y: axis(Object.assign({position: 'left'}, o.y), s => { s.width = p.l - f.l; s.paddingTop = 0; s.paddingBottom = 0; })
  };
  if (o.y2) {
    scales.y2 = axis(Object.assign({position: 'right', grid: false}, o.y2),
      s => { s.width = f.r - p.r; s.paddingTop = 0; s.paddingBottom = 0; });
  }
  return new Chart(cv, {
    type: 'scatter',
    data: {datasets: o.datasets},
    options: {
      animation: false, responsive: false, events: [],
      layout: {padding: {top: p.t - f.t, right: o.y2 ? 0 : f.r - p.r, bottom: 0, left: 0}},
      scales: scales,
      plugins: {legend: {display: false}, tooltip: {enabled: false}, sideTitle: o.sideTitle || {}}
    },
    plugins: [plotFrame, sideTitle]
  });
}

const twoRows = (v, i) => (i % 2 === 0 ? String(v) : ['', String(v)]);

// ---------- 1 ----------
makeChart({
  frame: {l: 86, t: 22, r: 927, b: 493}, plot: {l: 145, t: 65, r: 922, b: 452},
  x: {min: -73, max: 2518, ticks: hhmmTicks, pad: 8, font: 13, title: 'Time (GMT)', titleSize: 13},
  y: {min: 4, max: 16, ticks: tempTicks, pad: 14, font: 12, title: 'Temperature (Deg C)', titlePad: 10,
      gridWidth: c => (c.tick.value > 4 && c.tick.value < 16 ? 3 : 1)},
  datasets: [line(tempTimes, airTemp, 2.5), line(tempTimes, wetBulb, 1), line(tempTimes, dewPoint, 1)]
});

// ---------- 2 ----------
makeChart({
  frame: {l: 75, t: 525, r: 914, b: 992}, plot: {l: 142, t: 543, r: 901, b: 935},
  x: {min: -79, max: 2534, ticks: hhmmTicks, pad: 10, font: 13, title: 'Time (GMT)', titleSize: 13,
      label: twoRows, dash: DOTS},
  y: {min: 10, max: 100, ticks: rhTicks, pad: 11, font: 13, title: 'Relative humidity (%)', titlePad: 10,
      label: v => (v % 10 === 0 ? String(v) : ''), dash: DOTS},
  datasets: [line(rhTimes, rhValues, 2)]
});

// ---------- 3 ----------
makeChart({
  frame: {l: 75, t: 1031, r: 915, b: 1506}, plot: {l: 124, t: 1038, r: 906, b: 1462},
  x: {min: -77, max: 2530, ticks: hhmmTicks, pad: 10, font: 13, title: 'Time (GMT)', titleSize: 13, dash: DOTS},
  y: {min: 5, max: 10, ticks: mixTicks, pad: 11, font: 13, title: 'Humidity mixing ratio (grammes)', titlePad: 0, dash: DOTS},
  datasets: [line(mixTimes, mixValues, 2)]
});

// ---------- 4 ----------
makeChart({
  frame: {l: 71, t: 1533, r: 908, b: 2018}, plot: {l: 161, t: 1576, r: 901, b: 1947},
  x: {min: -81, max: 2531, ticks: hhmmTicks, pad: 10, font: 13, title: 'Time (GMT)', titleSize: 13,
      titlePad: 13, label: twoRows, dash: DOTS},
  y: {min: 990, max: 1008, ticks: pressTicks, pad: 10, font: 13, title: 'Pressure (mbar)', titlePad: 27, dash: DOTS},
  datasets: [line(pressTimes, pressValues, 1.5)]
});

// ---------- 5 ----------
makeChart({
  frame: {l: 80, t: 2046, r: 915, b: 2534}, plot: {l: 134, t: 2093, r: 844, b: 2477},
  x: {min: -80, max: 2502, ticks: hhmmTicks, pad: 9, font: 13, title: 'Time GMT', titleSize: 13,
      label: twoRows, dash: DOTS},
  y: {min: -12, max: 20, ticks: grassTicks, pad: 11, font: 13, bold: true, title: 'Grass Temp (Deg C)', titlePad: 0,
      dash: c => (c.tick.value === 0 || c.tick.value === 16 ? [] : DOTS),
      gridWidth: c => (c.tick.value === 0 || c.tick.value === 16 ? 1.5 : 1)},
  y2: {min: -14, max: 2, ticks: diffTicks, pad: 11, font: 13},
  sideTitle: {text: 'Grass Temp minus Air Temp (Deg C)', x: 812},
  datasets: [line(grassTimes, grassTemp, 2.5), line(diffTimes, grassAirDiff, 1, '#8c8c8c', 'y2')]
});

// ---------- 6 ----------
makeChart({
  frame: {l: 83, t: 2570, r: 914, b: 3051}, plot: {l: 134, t: 2577, r: 857, b: 2987},
  x: {min: -74, max: 2487, ticks: hhmmTicks, pad: 8, font: 13, title: 'Time (GMT)', titleSize: 13,
      titlePad: 8, label: twoRows, dash: DOTS},
  y: {min: 0, max: 10, ticks: rainTicks, pad: 12, font: 13, title: 'Rainfall ( mm)', titlePad: 0,
      label: v => (v % 2 === 0 ? String(v) : ''),
      dash: c => (c.tick.value % 2 === 0 ? [] : DOTS),
      gridWidth: c => (c.tick.value % 2 === 0 && c.tick.value > 0 && c.tick.value < 10 ? 3 : 1)},
  y2: {min: 0, max: 10, ticks: rainTicks, showTicks: false},
  sideTitle: {text: 'Rainfall (mm)', x: 797},
  datasets: [line(rainTimes, rainTotal, 2.5)]
});

// ---------- 7 ----------
makeChart({
  frame: {l: 73, t: 3093, r: 923, b: 3561}, plot: {l: 150, t: 3104, r: 916, b: 3513},
  x: {min: 2.41, max: 22.91, ticks: sunHourTicks, pad: 10, font: 17, bold: true, title: 'Time (GMT)', titleSize: 12,
      dash: [4, 3]},
  y: {min: 0, max: 150, ticks: sunTicks, pad: 13, font: 12, title: 'Sunshine (per cent per minute)', titlePad: 17,
      label: v => (v === 50 ? '' : String(v)),
      gridColor: c => (c.tick.value === 0 ? 'rgba(0,0,0,0)' : '#9a9a9a'), dash: [1, 1]},
  datasets: [line(sunHours, sunValues, 2.5)]
});

// ---------- 8 ----------
makeChart({
  frame: {l: 42, t: 3639, r: 953, b: 4155}, plot: {l: 124, t: 3658, r: 937, b: 4107},
  x: {min: -0.80, max: 24.81, ticks: hourTicks, pad: 10, font: 13, title: 'Time (GMT)', titleSize: 13, titlePad: 4},
  y: {min: 0, max: 360, ticks: dirTicks, pad: 12, font: 12, title: 'Direction, degrees true', titlePad: 24,
      label: v => (v % 30 === 0 ? String(v) : ''),
      gridWidth: c => (c.tick.value % 30 === 0 && c.tick.value > 0 && c.tick.value < 360 ? 3 : 1)},
  datasets: [{
    data: pts(dirHours, dirDegrees), pointStyle: 'rectRot', pointRadius: 4.5,
    backgroundColor: '#000', borderColor: '#000', borderWidth: 0
  }]
});

// ---------- 9 ----------
makeChart({
  frame: {l: 37, t: 4187, r: 950, b: 4682}, plot: {l: 96, t: 4231, r: 944, b: 4610},
  x: {min: -0.70, max: 25.27, ticks: hourTicks, pad: 11, font: 12, title: 'Time (GMT)', titleSize: 13,
      titlePad: 15, label: (v, i) => (i % 2 === 0 ? clockLabels[i] : ['', clockLabels[i]]), dash: DOTS},
  y: {min: 0, max: 50, ticks: speedTicks, pad: 13, font: 12, title: 'Speed (knots)', titlePad: 6,
      label: v => (v % 10 === 0 ? String(v) : ''), dash: DOTS},
  datasets: [
    line(meanHours, meanSpeed, 2),
    line(gustHours, gustSpeed, 1, '#555'),
    {
      data: pts(slowHours, slowSpeedX10), pointStyle: 'rectRot', pointRadius: 5,
      backgroundColor: '#c8c8c8', borderColor: '#333', borderWidth: 1
    }
  ]
});
</script>
</body>
</html>
